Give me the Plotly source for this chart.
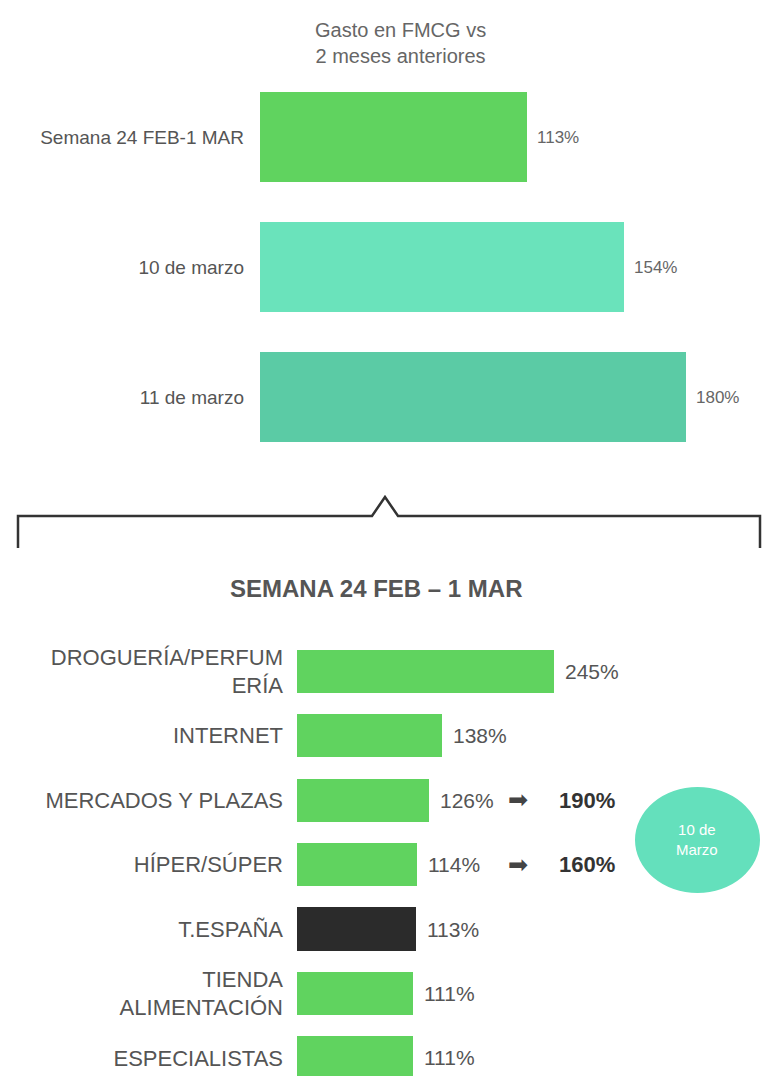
import plotly.graph_objects as go

W, H = 762, 1076

# ---------------- data ----------------
top_categories = ["Semana 24 FEB-1 MAR", "10 de marzo", "11 de marzo"]
top_values = [113, 154, 180]
top_colors = ["#60D35F", "#6AE3BB", "#5BCBA5"]

bottom_categories = ["DROGUERÍA/PERFUM<br>ERÍA", "INTERNET", "MERCADOS Y PLAZAS",
                     "HÍPER/SÚPER", "T.ESPAÑA", "TIENDA<br>ALIMENTACIÓN", "ESPECIALISTAS"]
bottom_values = [245, 138, 126, 114, 113, 111, 111]
bottom_colors = ["#60D35F", "#60D35F", "#60D35F", "#60D35F", "#2B2B2B", "#60D35F", "#60D35F"]

march10_categories = ["MERCADOS Y PLAZAS", "HÍPER/SÚPER"]
march10_values = [190, 160]

top_title = "Gasto en FMCG vs<br>2 meses anteriores"
bottom_title = "SEMANA 24 FEB – 1 MAR"
bubble_text = "10 de<br>Marzo"


def px(x):
    return x / W


def py(y):
    return 1 - y / H


FONT = "Liberation Sans, Arial, sans-serif"

fig = go.Figure()

fig.add_trace(go.Bar(
    x=top_values, y=top_categories, orientation="h",
    marker=dict(color=top_colors, line=dict(width=0)),
    width=0.69, xaxis="x", yaxis="y", hoverinfo="x+y", showlegend=False,
))

fig.add_trace(go.Bar(
    x=bottom_values, y=bottom_categories, orientation="h",
    marker=dict(color=bottom_colors, line=dict(width=0)),
    width=0.67, xaxis="x2", yaxis="y2", hoverinfo="x+y", showlegend=False,
))

annotations = []
for c, v in zip(top_categories, top_values):
    annotations.append(dict(x=v, y=c, xref="x", yref="y", text=f"{v}%", showarrow=False,
                            xanchor="left", xshift=8,
                            font=dict(family=FONT, size=17, color="#666666")))
for c, v in zip(bottom_categories, bottom_values):
    annotations.append(dict(x=v, y=c, xref="x2", yref="y2", text=f"{v}%", showarrow=False,
                            xanchor="left", xshift=9,
                            font=dict(family=FONT, size=21, color="#555555")))
for c, v in zip(march10_categories, march10_values):
    annotations.append(dict(x=px(518), xref="paper", y=c, yref="y2", text="➡", showarrow=False,
                            xanchor="center",
                            font=dict(family="DejaVu Sans", size=24, color="#444444")))
    annotations.append(dict(x=px(557), xref="paper", y=c, yref="y2", text=f"<b>{v}%</b>",
                            showarrow=False, xanchor="left",
                            font=dict(family=FONT, size=22, color="#333333")))

annotations.append(dict(x=px(400), y=py(43), xref="paper", yref="paper", text=top_title,
                        showarrow=False, xanchor="center", yanchor="middle",
                        font=dict(family=FONT, size=20, color="#666666")))
annotations.append(dict(x=px(376), y=py(588), xref="paper", yref="paper",
                        text=f"<b>{bottom_title}</b>", showarrow=False,
                        xanchor="center", yanchor="middle",
                        font=dict(family=FONT, size=24, color="#555555")))
annotations.append(dict(x=px(697), y=py(839), xref="paper", yref="paper", text=bubble_text,
                        showarrow=False, xanchor="center", yanchor="middle",
                        font=dict(family=FONT, size=15, color="#FFFFFF")))

bracket = (f"M {px(18)},{py(548)} L {px(18)},{py(516)} L {px(372)},{py(516)} "
           f"L {px(385)},{py(497)} L {px(398)},{py(516)} L {px(760)},{py(516)} "
           f"L {px(760)},{py(548)}")

shapes = [
    dict(type="path", xref="paper", yref="paper", path=bracket,
         line=dict(color="#333333", width=2.5)),
    dict(type="circle", xref="paper", yref="paper",
         x0=px(635), x1=px(760), y0=py(893), y1=py(787),
         fillcolor="#64E0BC", line=dict(width=0), layer="above"),
]

fig.update_layout(
    width=W, height=H,
    margin=dict(l=0, r=0, t=0, b=0),
    paper_bgcolor="white", plot_bgcolor="white",
    font=dict(family=FONT),
    xaxis=dict(domain=[px(260), 1], range=[0, (W - 260) / 2.365],
               visible=False, fixedrange=True),
    yaxis=dict(domain=[py(462), py(72)], range=[2.5, -0.5], type="category",
               categoryorder="array", categoryarray=top_categories,
               showgrid=False, zeroline=False, showline=False, ticks="",
               ticklabelstandoff=15, fixedrange=True,
               tickfont=dict(family=FONT, size=19, color="#555555")),
    xaxis2=dict(domain=[px(297), 1], range=[0, (W - 297) / 1.049],
                visible=False, fixedrange=True, anchor="y2"),
    yaxis2=dict(domain=[0, py(639)], range=[6.28, -0.5], type="category",
                categoryorder="array", categoryarray=bottom_categories,
                showgrid=False, zeroline=False, showline=False, ticks="",
                ticklabelstandoff=13, anchor="x2", fixedrange=True,
                tickfont=dict(family=FONT, size=22, color="#555555")),
    annotations=annotations,
    shapes=shapes,
    bargap=0,
)

fig.write_html("out.html",
               config={"displayModeBar": False},
               post_script="document.body.style.margin='0';document.body.style.overflow='hidden';")
